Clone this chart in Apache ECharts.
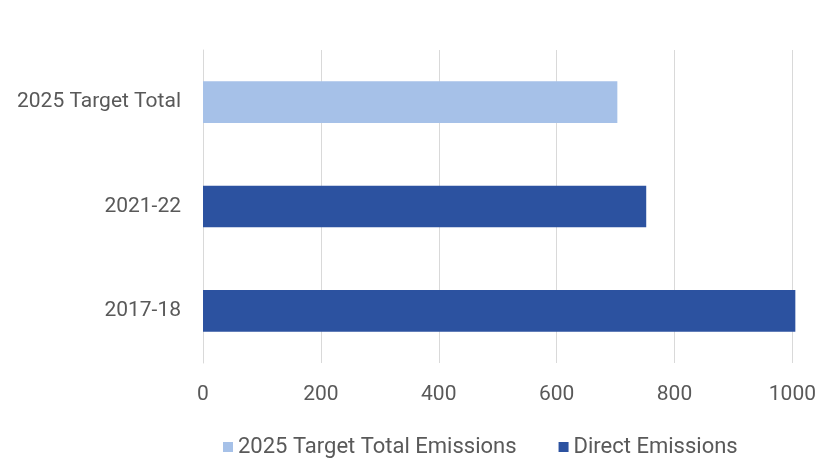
<!DOCTYPE html>
<html>
<head>
<meta charset="utf-8">
<script src="https://cdn.jsdelivr.net/npm/echarts@6/dist/echarts.min.js"></script>
<style>
  html, body { margin: 0; padding: 0; background: #fff; }
  #chart { width: 819px; height: 460px; }
</style>
</head>
<body>
<div id="chart"></div>
<script>
  // categories bottom to top
  const categories = ['2017-18', '2021-22', '2025 Target Total'];
  const targetValues = [null, null, 703];
  const directValues = [1005, 752, null];
  const xTicks = [0, 200, 400, 600, 800, 1000];

  const chart = echarts.init(document.getElementById('chart'));
  const font = "Roboto, 'Open Sans', sans-serif";
  const option = {
    animation: false,
    grid: { left: 203, right: 26, top: 50, bottom: 97 },
    legend: {
      top: 431,
      left: 218,
      itemWidth: 10,
      itemHeight: 10,
      itemGap: 42,
      icon: 'rect',
      textStyle: { color: '#595959', fontSize: 22, fontFamily: font },
      data: ['2025 Target Total Emissions', 'Direct Emissions'],
    },
    xAxis: {
      type: 'value',
      min: 0,
      max: 1000,
      interval: 200,
      axisLine: { show: false },
      axisTick: { show: false },
      axisLabel: {
        color: '#595959',
        fontSize: 21,
        fontFamily: font,
        margin: 21,
        formatter: (v) => (xTicks.includes(v) ? String(v) : ''),
      },
      splitLine: { lineStyle: { color: '#d9d9d9', width: 1 } },
    },
    yAxis: {
      type: 'category',
      data: categories,
      axisLine: { lineStyle: { color: '#d9d9d9' } },
      axisTick: { show: false },
      axisLabel: { color: '#595959', fontSize: 21, fontFamily: font, margin: 22 },
    },
    series: [
      {
        name: '2025 Target Total Emissions',
        type: 'bar',
        stack: 'all',
        barWidth: '40%',
        clip: false,
        data: targetValues,
        itemStyle: { color: '#a6c1e8' },
      },
      {
        name: 'Direct Emissions',
        type: 'bar',
        stack: 'all',
        barWidth: '40%',
        clip: false,
        data: directValues,
        itemStyle: { color: '#2c52a0' },
      },
    ],
  };
  chart.setOption(option);
</script>
</body>
</html>
